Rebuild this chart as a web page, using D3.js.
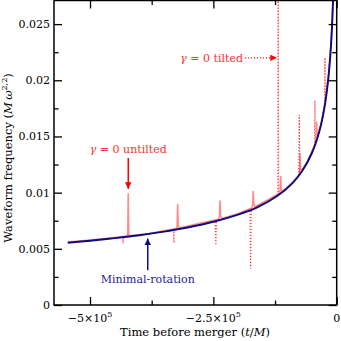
<!DOCTYPE html>
<html><head><meta charset="utf-8">
<script src="https://cdn.jsdelivr.net/npm/d3@7"></script>
<style>html,body{margin:0;padding:0;background:#fff}svg{display:block}
svg text{font-family:"DejaVu Serif",serif;}</style>
</head><body><div id="chart"></div>
<script>
// ---- data ----
const xMajorTicks = [-500000, -250000, 0];
const xTickMantissa = ["\u22125\u00d710", "\u22122.5\u00d710", "0"];
const xTickExponent = ["5", "5", ""];
const xMinorTicks = [-375000, -125000];
const yMajorTicks = [0, 0.005, 0.01, 0.015, 0.02, 0.025];
const yTickLabels = ["0", "0.005", "0.01", "0.015", "0.02", "0.025"];
const yMinorTicks = [0.0025, 0.0075, 0.0125, 0.0175, 0.0225];

// Minimal-rotation frequency (blue)
const minRotT = [-545000,-500000,-450000,-400000,-350000,-300000,-250000,-200000,-160000,-120000,-90000,-70000,-50000,-35000,-25000,-18000,-13000,-10000,-8000,-6500,-5500];
const minRotF = [0.00554,0.00572,0.00595,0.00621,0.00653,0.00692,0.00741,0.00805,0.00872,0.00972,0.01083,0.01192,0.01355,0.01548,0.01752,0.01975,0.02215,0.02430,0.02640,0.02830,0.02990];

// gamma = 0 untilted (light red, solid)
const untiltedT = [-545000,-500000,-450000,-425500,-423500,-422500,-421500,-419500,-380000,-350000,-325500,-323500,-322400,-321300,-319000,-280000,-239700,-237600,-236600,-235500,-233000,-200000,-172200,-170100,-169100,-168000,-165500,-140000,-116500,-114400,-113500,-112500,-110000,-90000,-77000,-75200,-74400,-73500,-71500,-60000,-43000,-41300,-40600,-39800,-38000,-30000,-22000,-16000,-12000,-9500,-7500,-6000];
const untiltedF = [0.00560,0.00578,0.00601,0.00614,0.00630,0.00990,0.00632,0.00616,0.00637,0.00660,0.00680,0.00700,0.00895,0.00705,0.00686,0.00724,0.00764,0.00787,0.00925,0.00792,0.00770,0.00812,0.00864,0.00892,0.01010,0.00897,0.00875,0.00935,0.00995,0.01020,0.01144,0.01025,0.01010,0.01090,0.01155,0.01190,0.01345,0.01210,0.01195,0.01272,0.01440,0.01480,0.01625,0.01510,0.01510,0.01650,0.01850,0.02080,0.02310,0.02500,0.02720,0.02920];

// gamma = 0 tilted (red, dotted)
const tiltedT = [-545000,-480000,-440000,-434500,-433000,-431500,-400000,-360000,-331500,-330000,-328500,-290000,-246500,-245000,-243500,-210000,-176000,-174500,-173000,-140000,-119500,-118600,-117700,-95000,-76800,-75800,-74800,-60000,-45200,-44200,-43200,-32000,-24500,-23800,-23000,-16000,-12000,-9500,-7500,-6000];
const tiltedF = [0.00554,0.00580,0.00600,0.00603,0.00547,0.00606,0.00622,0.00647,0.00667,0.00552,0.00670,0.00702,0.00745,0.00532,0.00748,0.00792,0.00850,0.00325,0.00854,0.00925,0.00975,0.03000,0.00980,0.01065,0.01150,0.01693,0.01160,0.01265,0.01410,0.01820,0.01420,0.01610,0.01770,0.02200,0.01800,0.02070,0.02300,0.02480,0.02700,0.02900];

// annotations (data coordinates)
const untiltedArrow = {t: -422500, from: 0.01308, to: 0.01034, lt: -422500, lf: 0.01355};
const tiltedArrow = {f: 0.0220, from: -186000, to: -121500, lt: -190000, lf: 0.0216};
const minRotArrow = {t: -383000, from: 0.0031, to: 0.00591, lt: -383000, lf: 0.0020};

// ---- layout ----
const W = 341, H = 341;
const L = 54, R = 336.7, T = 0.5, B = 305;
const x = d3.scaleLinear().domain([-573000, 0]).range([L, R]);
const y = d3.scaleLinear().domain([0, 0.0271]).range([B, T]);

const svg = d3.select("#chart").append("svg").attr("width", W).attr("height", H);

const defs = svg.append("defs");
defs.append("clipPath").attr("id", "clip")
  .append("rect").attr("x", L).attr("y", T).attr("width", R - L).attr("height", B - T);
function marker(id, color) {
  defs.append("marker").attr("id", id).attr("viewBox", "0 0 10 10")
    .attr("refX", 10).attr("refY", 5).attr("markerWidth", 10).attr("markerHeight", 6.5)
    .attr("markerUnits", "userSpaceOnUse").attr("orient", "auto")
    .append("path").attr("d", "M0,0 L10,5 L0,10 z").attr("fill", color);
}
marker("arRed", "#ff0000");
marker("arBlue", "#0c0c80");

const plot = svg.append("g").attr("clip-path", "url(#clip)");
const line = d3.line().x(d => x(d[0])).y(d => y(d[1]));

plot.append("path").datum(d3.zip(untiltedT, untiltedF)).attr("d", line)
  .attr("fill", "none").attr("stroke", "#ff8a8a").attr("stroke-width", 1.6).attr("stroke-linejoin", "round");
plot.append("path").datum(d3.zip(tiltedT, tiltedF)).attr("d", line)
  .attr("fill", "none").attr("stroke", "#ff2a2a").attr("stroke-width", 1.2).attr("stroke-dasharray", "1,2");
plot.append("path").datum(d3.zip(minRotT, minRotF)).attr("d", d3.line().x(d => x(d[0])).y(d => y(d[1])).curve(d3.curveCatmullRom.alpha(0.5)))
  .attr("fill", "none").attr("stroke", "#0c0c80").attr("stroke-width", 1.9);

// ---- axes ----
function addAxis(gen, tr) {
  const g = svg.append("g").attr("transform", tr).call(gen);
  g.select(".domain").remove();
  g.selectAll(".tick line").attr("stroke", "#000").attr("stroke-width", 1.3);
  return g;
}
addAxis(d3.axisBottom(x).tickValues(xMajorTicks).tickSize(-8).tickFormat(""), `translate(0,${B})`);
addAxis(d3.axisBottom(x).tickValues(xMinorTicks).tickSize(-4.5).tickFormat(""), `translate(0,${B})`);
addAxis(d3.axisTop(x).tickValues(xMajorTicks).tickSize(-8).tickFormat(""), `translate(0,${T})`);
addAxis(d3.axisTop(x).tickValues(xMinorTicks).tickSize(-4.5).tickFormat(""), `translate(0,${T})`);
addAxis(d3.axisLeft(y).tickValues(yMajorTicks).tickSize(-8).tickFormat(""), `translate(${L},0)`);
addAxis(d3.axisLeft(y).tickValues(yMinorTicks).tickSize(-4.5).tickFormat(""), `translate(${L},0)`);
addAxis(d3.axisRight(y).tickValues(yMajorTicks).tickSize(-8).tickFormat(""), `translate(${R},0)`);
addAxis(d3.axisRight(y).tickValues(yMinorTicks).tickSize(-4.5).tickFormat(""), `translate(${R},0)`);

// tick labels
xMajorTicks.forEach((v, i) => {
  const t = svg.append("text").attr("x", x(v)).attr("y", 322).attr("text-anchor", "middle")
    .attr("font-size", 11).attr("fill", "#000");
  t.append("tspan").text(xTickMantissa[i]);
  if (xTickExponent[i]) t.append("tspan").attr("dy", -5).attr("font-size", 8).text(xTickExponent[i]);
});
yMajorTicks.forEach((v, i) => {
  svg.append("text").attr("x", 50).attr("y", y(v) + 4).attr("text-anchor", "end")
    .attr("font-size", 11).attr("fill", "#000").text(yTickLabels[i]);
});

// frame
svg.append("rect").attr("x", L).attr("y", T).attr("width", R - L).attr("height", B - T)
  .attr("fill", "none").attr("stroke", "#000").attr("stroke-width", 1.5);

// axis titles
const xt = svg.append("text").attr("x", 195).attr("y", 336).attr("text-anchor", "middle")
  .attr("font-size", 11.5).attr("fill", "#000");
xt.append("tspan").text("Time before merger (");
xt.append("tspan").attr("font-style", "italic").text("t");
xt.append("tspan").text("/");
xt.append("tspan").attr("font-style", "italic").text("M");
xt.append("tspan").text(")");

const yt = svg.append("text").attr("transform", "translate(12,158) rotate(-90)").attr("text-anchor", "middle")
  .attr("font-size", 11.5).attr("fill", "#000");
yt.append("tspan").text("Waveform frequency (");
yt.append("tspan").attr("font-style", "italic").text("M\u2009\u03c9");
yt.append("tspan").attr("dy", -5).attr("font-size", 8).text("2,2");
yt.append("tspan").attr("dy", 5).text(")");

// ---- annotations ----
svg.append("line").attr("x1", x(untiltedArrow.t)).attr("x2", x(untiltedArrow.t))
  .attr("y1", y(untiltedArrow.from)).attr("y2", y(untiltedArrow.to))
  .attr("stroke", "#ff0000").attr("stroke-width", 1.5).attr("marker-end", "url(#arRed)");
const ut = svg.append("text").attr("x", x(untiltedArrow.lt)).attr("y", y(untiltedArrow.lf))
  .attr("text-anchor", "middle").attr("font-size", 11).attr("fill", "#ff3030");
ut.append("tspan").attr("font-style", "italic").text("\u03b3");
ut.append("tspan").text(" = 0 untilted");

svg.append("line").attr("x1", x(tiltedArrow.from)).attr("x2", x(tiltedArrow.to))
  .attr("y1", y(tiltedArrow.f)).attr("y2", y(tiltedArrow.f))
  .attr("stroke", "#ff0000").attr("stroke-width", 1.3).attr("stroke-dasharray", "1,2")
  .attr("marker-end", "url(#arRed)");
const tt = svg.append("text").attr("x", x(tiltedArrow.lt)).attr("y", y(tiltedArrow.lf))
  .attr("text-anchor", "end").attr("font-size", 11).attr("fill", "#ff3030");
tt.append("tspan").attr("font-style", "italic").text("\u03b3");
tt.append("tspan").text(" = 0 tilted");

svg.append("line").attr("x1", x(minRotArrow.t)).attr("x2", x(minRotArrow.t))
  .attr("y1", y(minRotArrow.from)).attr("y2", y(minRotArrow.to))
  .attr("stroke", "#0c0c80").attr("stroke-width", 1.5).attr("marker-end", "url(#arBlue)");
svg.append("text").attr("x", x(minRotArrow.lt)).attr("y", y(minRotArrow.lf))
  .attr("text-anchor", "middle").attr("font-size", 11).attr("fill", "#1c1c9a").text("Minimal-rotation");
</script>
</body></html>
